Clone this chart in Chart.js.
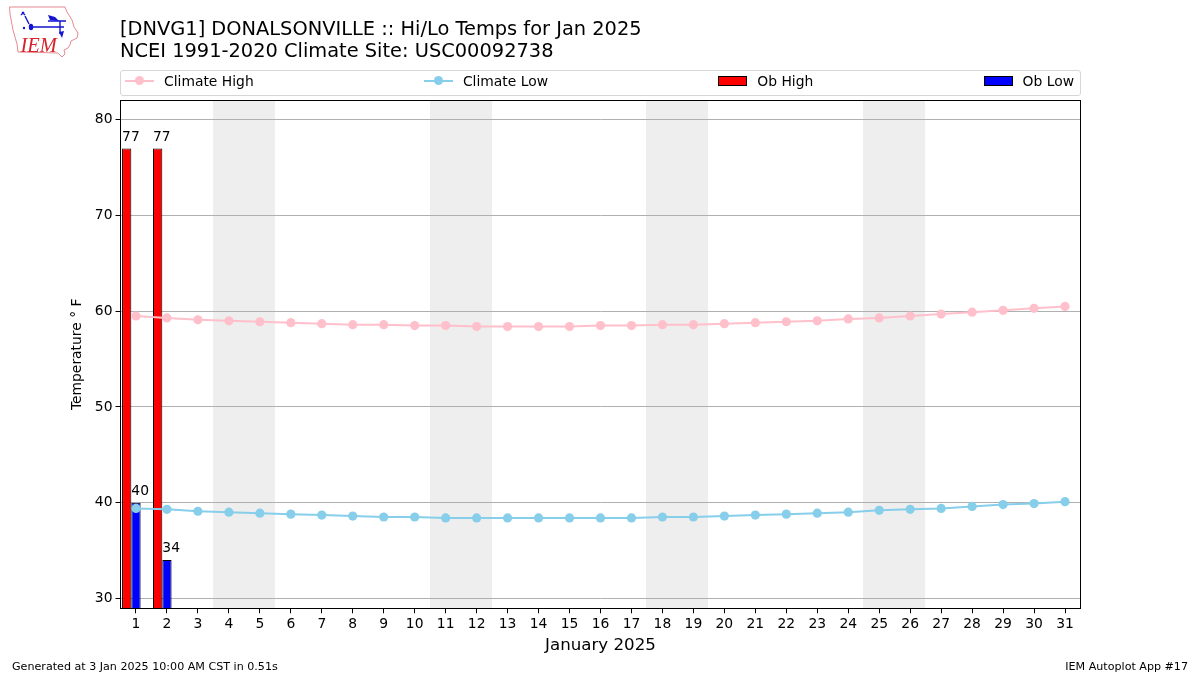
<!DOCTYPE html>
<html>
<head>
<meta charset="utf-8">
<title>DNVG1 Hi/Lo Temps</title>
<script src="https://cdn.jsdelivr.net/npm/chart.js@4/dist/chart.umd.min.js"></script>
<style>
    body { margin: 0; background: #fff; font-family: "DejaVu Sans", sans-serif; color: #000; }
    #page { position: relative; width: 1200px; height: 675px; overflow: hidden; }
    #chart { position: absolute; left: 0; top: 0; }
    #logo { position: absolute; left: 8px; top: 5px; }
    #title { position: absolute; left: 120px; top: 18px; font-size: 19.4px; line-height: 21.5px; white-space: nowrap; }
    .legend-container { position: absolute; left: 120px; top: 70px; width: 959px; height: 19px; padding-bottom: 5px;
        border: 1px solid #d6d6d6; border-radius: 3px; display: flex; justify-content: space-between; align-items: center;
        font-size: 13.89px; }
    .legend-item { display: flex; align-items: center; margin: 0 6px 0 4px; }
    .legend-line { position: relative; width: 29px; height: 2px; margin-right: 10px; }
    .legend-line span { position: absolute; left: 10px; top: -3.5px; width: 9px; height: 9px; border-radius: 50%; }
    .legend-square { width: 27px; height: 8px; border: 1px solid #000; margin-right: 10px; }
    .footer { position: absolute; top: 660px; font-size: 11.11px; line-height: 13px; white-space: nowrap; }
</style>
</head>
<body>
<div id="page">
    <canvas id="chart" width="1200" height="675"></canvas>
    <svg id="logo" width="72" height="54" viewBox="8 5 72 54">
        <path d="M9.5 7 L65 7 L67 12 L72 20 L74 27 L78 33 L77 38 L71 41 L70 45 L68 48 L64 50 L65 54 L62 57 L58 53 L18 52 L17 44 L13 30 L10 14 Z" fill="none" stroke="#e58a8f" stroke-width="1"/>
        <path d="M22 12 L25 15 M21 15 L24 12 M25 16 L29 24 M31 27 L64 27 M60 21 L60 34 M48 21 L66 21" fill="none" stroke="#1414d2" stroke-width="1.4"/>
        <path d="M48 15 L55 17 L59 21 L50 20 Z M59 32 L64 31 L62 38 Z" fill="#1414d2"/>
        <ellipse cx="31" cy="27" rx="2.2" ry="3.2" fill="#1414d2"/>
        <circle cx="24" cy="28" r="1.2" fill="#1414d2"/>
        <text x="20.5" y="52" font-family="Liberation Serif" font-style="italic" font-size="20.5" fill="#d8232a">IEM</text>
    </svg>
    <div id="title">[DNVG1] DONALSONVILLE :: Hi/Lo Temps for Jan 2025<br>NCEI 1991-2020 Climate Site: USC00092738</div>
    <div class="legend-container"></div>
    <div class="footer" style="left:12px">Generated at 3 Jan 2025 10:00 AM CST in 0.51s</div>
    <div class="footer" style="right:12px">IEM Autoplot App #17</div>
</div>
<script>
const days = ['1', '2', '3', '4', '5', '6', '7', '8', '9', '10', '11', '12', '13', '14', '15', '16',
    '17', '18', '19', '20', '21', '22', '23', '24', '25', '26', '27', '28', '29', '30', '31'];
const climateHigh = [59.5, 59.3, 59.1, 59.0, 58.9, 58.8, 58.7, 58.6, 58.6, 58.5, 58.5, 58.4, 58.4, 58.4, 58.4, 58.5,
    58.5, 58.6, 58.6, 58.7, 58.8, 58.9, 59.0, 59.2, 59.3, 59.5, 59.7, 59.9, 60.1, 60.3, 60.5];
const climateLow = [39.4, 39.3, 39.1, 39.0, 38.9, 38.8, 38.7, 38.6, 38.5, 38.5, 38.4, 38.4, 38.4, 38.4, 38.4, 38.4,
    38.4, 38.5, 38.5, 38.6, 38.7, 38.8, 38.9, 39.0, 39.2, 39.3, 39.4, 39.6, 39.8, 39.9, 40.1];
const obHigh = [77, 77];
const obLow = [40, 34];
// weekends, as first and last day of month
const weekends = [[4, 5], [11, 12], [18, 19], [25, 26]];

Chart.defaults.font.family = '"DejaVu Sans", sans-serif';
Chart.defaults.color = '#000';

// Grey weekend bands, under the grid lines
const weekendBands = {
    id: 'weekendBands',
    beforeDraw(chart) {
        const { ctx, chartArea, scales } = chart;
        ctx.save();
        ctx.fillStyle = '#eeeeee';
        weekends.forEach(w => {
            const x0 = Math.floor(scales.x.getPixelForValue(w[0] - 1.5));
            const x1 = Math.floor(scales.x.getPixelForValue(w[1] - 0.5));
            ctx.fillRect(x0, chartArea.top, x1 - x0, chartArea.bottom - chartArea.top);
        });
        ctx.restore();
    }
};

// Value labels start at the left edge of each bar
const barLabels = {
    id: 'barLabels',
    afterDatasetsDraw(chart) {
        const { ctx } = chart;
        ctx.save();
        ctx.fillStyle = '#000';
        ctx.font = '13.89px "DejaVu Sans"';
        ctx.textAlign = 'left';
        ctx.textBaseline = 'alphabetic';
        chart.data.datasets.forEach((ds, i) => {
            if (ds.type !== 'bar') return;
            chart.getDatasetMeta(i).data.forEach((el, j) => {
                if (ds.data[j] == null) return;
                ctx.fillText(String(ds.data[j]), el.x - el.width / 2, el.y - 8);
            });
        });
        ctx.restore();
    }
};

// Black box round the plot
const plotFrame = {
    id: 'plotFrame',
    afterDraw(chart) {
        const { ctx, chartArea: a } = chart;
        ctx.save();
        ctx.strokeStyle = '#000';
        ctx.lineWidth = 1;
        ctx.strokeRect(Math.floor(a.left) + 0.5, Math.floor(a.top) + 0.5, Math.floor(a.right) - Math.floor(a.left), Math.floor(a.bottom) - Math.floor(a.top));
        ctx.restore();
    }
};

const lineStyle = color => ({
    type: 'line',
    borderColor: color,
    backgroundColor: color,
    borderWidth: 2,
    pointRadius: 4.6,
    pointBorderWidth: 0,
    tension: 0,
    order: 0
});

const barStyle = color => ({
    type: 'bar',
    backgroundColor: color,
    borderColor: '#000',
    borderWidth: 1,
    categoryPercentage: 0.9,
    barPercentage: 1,
    order: 1
});

const ctx = document.getElementById('chart').getContext('2d');
const myChart = new Chart(ctx, {
    data: {
        labels: days,
        datasets: [
            { label: 'Climate High', data: climateHigh, ...lineStyle('#ffc0cb') },
            { label: 'Climate Low', data: climateLow, ...lineStyle('#87ceeb') },
            { label: 'Ob High', data: obHigh, ...barStyle('#ff0000') },
            { label: 'Ob Low', data: obLow, ...barStyle('#0000ff') },
            // empty third slot, pushes the pair left of the day tick
            { label: '', data: [], ...barStyle('#ffffff') }
        ]
    },
    options: {
        responsive: false,
        animation: false,
        layout: { padding: { left: 69.5, top: 100.3, right: 119.5, bottom: 19.7 } },
        plugins: { legend: { display: false }, tooltip: { enabled: false } },
        scales: {
            x: {
                type: 'category',
                offset: true,
                afterFit(scale) { scale.height = 47; },
                grid: { offset: false, drawOnChartArea: false, tickColor: '#000', tickLength: 5 },
                border: { display: false },
                ticks: { font: { size: 13.89 }, autoSkip: false, maxRotation: 0, padding: 3 },
                title: { display: true, text: 'January 2025', font: { size: 16.67 }, padding: 0 }
            },
            y: {
                min: 28.96,
                max: 82.04,
                afterFit(scale) { scale.width = 51; },
                grid: { color: '#b0b0b0', lineWidth: 1, tickColor: '#000', tickLength: 5 },
                border: { display: false },
                ticks: { stepSize: 10, includeBounds: false, font: { size: 13.89 }, padding: 3 },
                title: { display: true, text: 'Temperature ° F', font: { size: 13.89 }, padding: 0 }
            }
        }
    },
    plugins: [weekendBands, barLabels, plotFrame]
});

// Legend row, filled in from the chart datasets
const legendContainer = document.querySelector('.legend-container');
myChart.data.datasets.filter(ds => ds.label).forEach(ds => {
    const legendItem = document.createElement('div');
    legendItem.classList.add('legend-item');
    if (ds.type === 'line') {
        legendItem.innerHTML = `<div class="legend-line" style="background:${ds.borderColor}"><span style="background:${ds.borderColor}"></span></div>${ds.label}`;
    } else {
        legendItem.innerHTML = `<div class="legend-square" style="background:${ds.backgroundColor}"></div>${ds.label}`;
    }
    legendContainer.appendChild(legendItem);
});
</script>
</body>
</html>
